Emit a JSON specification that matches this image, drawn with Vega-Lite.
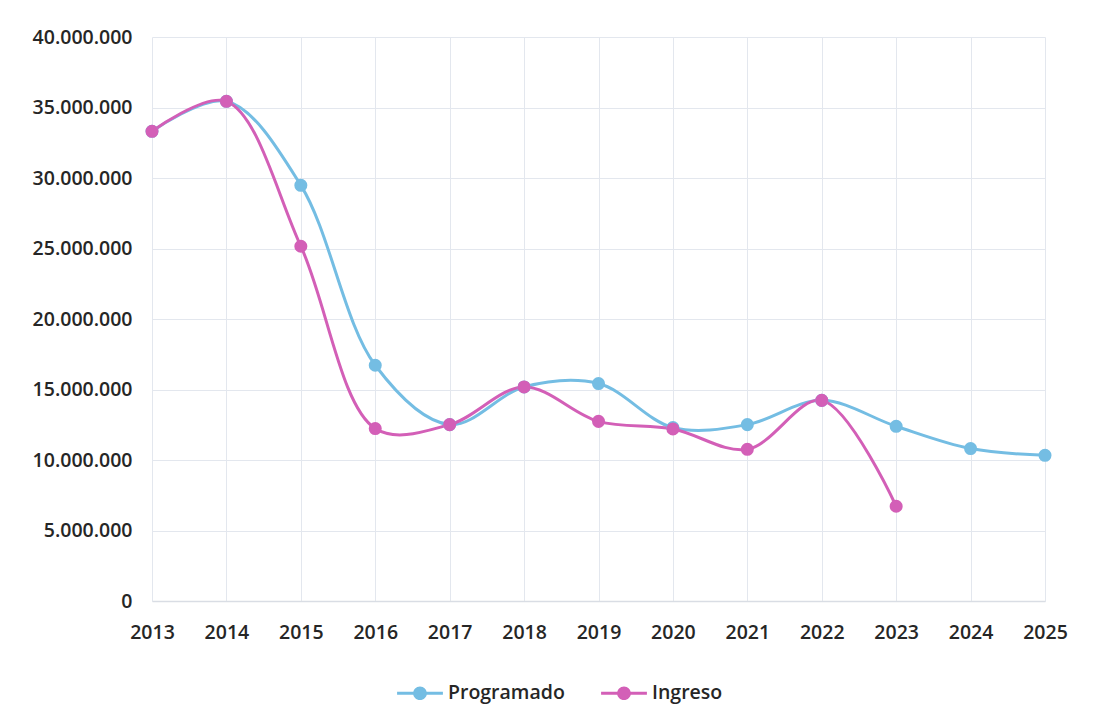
{
  "$schema": "https://vega.github.io/schema/vega-lite/v6.json",
  "width": 893,
  "height": 564,
  "autosize": {"type": "none"},
  "padding": {"left": 152, "top": 37, "right": 49, "bottom": 117},
  "background": "white",
  "config": {
    "locale": {"number": {"decimal": ",", "thousands": ".", "grouping": [3], "currency": ["$", ""]}},
    "font": "Open Sans",
    "view": {"stroke": null},
    "axis": {"labelFont": "Open Sans", "labelFontWeight": 600, "labelFontSize": 19.5, "labelColor": "#262626", "gridColor": "#e3e7ee", "gridWidth": 1, "ticks": false, "title": null}
  },
  "data": {
    "values": [
      {"year": 2013, "serie": "Programado", "valor": 33310000},
      {"year": 2014, "serie": "Programado", "valor": 35440000},
      {"year": 2015, "serie": "Programado", "valor": 29480000},
      {"year": 2016, "serie": "Programado", "valor": 16720000},
      {"year": 2017, "serie": "Programado", "valor": 12510000},
      {"year": 2018, "serie": "Programado", "valor": 15180000},
      {"year": 2019, "serie": "Programado", "valor": 15420000},
      {"year": 2020, "serie": "Programado", "valor": 12300000},
      {"year": 2021, "serie": "Programado", "valor": 12510000},
      {"year": 2022, "serie": "Programado", "valor": 14230000},
      {"year": 2023, "serie": "Programado", "valor": 12390000},
      {"year": 2024, "serie": "Programado", "valor": 10810000},
      {"year": 2025, "serie": "Programado", "valor": 10330000},
      {"year": 2013, "serie": "Ingreso", "valor": 33310000},
      {"year": 2014, "serie": "Ingreso", "valor": 35440000},
      {"year": 2015, "serie": "Ingreso", "valor": 25160000},
      {"year": 2016, "serie": "Ingreso", "valor": 12230000},
      {"year": 2017, "serie": "Ingreso", "valor": 12510000},
      {"year": 2018, "serie": "Ingreso", "valor": 15180000},
      {"year": 2019, "serie": "Ingreso", "valor": 12740000},
      {"year": 2020, "serie": "Ingreso", "valor": 12200000},
      {"year": 2021, "serie": "Ingreso", "valor": 10760000},
      {"year": 2022, "serie": "Ingreso", "valor": 14230000},
      {"year": 2023, "serie": "Ingreso", "valor": 6720000}
    ]
  },
  "encoding": {
    "x": {
      "field": "year", "type": "quantitative",
      "scale": {"domain": [2013, 2025], "nice": false, "zero": false},
      "axis": {"values": [2013,2014,2015,2016,2017,2018,2019,2020,2021,2022,2023,2024,2025], "format": "d", "labelPadding": 22, "domainColor": "#d9dde4", "domainWidth": 1.5, "labelFlush": false}
    },
    "y": {
      "field": "valor", "type": "quantitative",
      "scale": {"domain": [0, 40000000], "nice": false},
      "axis": {"values": [0,5000000,10000000,15000000,20000000,25000000,30000000,35000000,40000000], "format": ",.0f", "labelPadding": 20, "domain": false}
    },
    "color": {
      "field": "serie", "type": "nominal",
      "scale": {"domain": ["Programado", "Ingreso"], "range": ["#74bde3", "#d35fb7"]},
      "legend": {
        "title": null, "orient": "none", "direction": "horizontal",
        "legendX": 245, "legendY": 633,
        "labelFont": "Open Sans", "labelFontWeight": 600, "labelFontSize": 19.5, "labelColor": "#262626",
        "symbolType": "M-1,-0.07 L1,-0.07 L1,0.07 L-1,0.07 Z M0.3,0 A0.3,0.3 0 1,1 -0.3,0 A0.3,0.3 0 1,1 0.3,0 Z",
        "symbolSize": 2100, "symbolStrokeWidth": 0, "labelOffset": 5, "columnPadding": 36
      }
    }
  },
  "layer": [
    {"mark": {"type": "line", "interpolate": "catmull-rom", "strokeWidth": 3}},
    {"mark": {"type": "point", "filled": true, "size": 170, "opacity": 1}}
  ]
}
